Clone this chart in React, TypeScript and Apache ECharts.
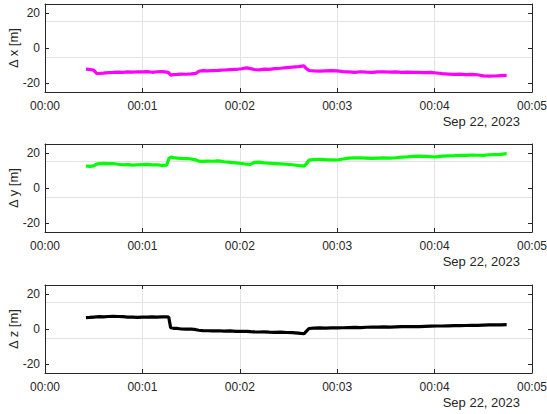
import React, { useEffect, useRef } from "react";
import * as echarts from "echarts";

const t = [
  0.42, 0.46, 0.50, 0.53, 0.56, 0.60, 0.65, 0.70, 0.75, 0.80, 0.85, 0.90, 0.95, 1.00, 1.05, 1.10, 1.15, 1.20, 1.25,
  1.27, 1.29, 1.32, 1.36, 1.40, 1.45, 1.50, 1.55,
  1.58, 1.62, 1.67, 1.72, 1.78, 1.84, 1.90, 1.96, 2.02, 2.07, 2.11, 2.15, 2.20, 2.25, 2.30, 2.36, 2.42, 2.48, 2.54, 2.60, 2.66,
  2.68, 2.71, 2.76, 2.82, 2.88, 2.94, 3.00, 3.06, 3.12, 3.18, 3.24, 3.30, 3.36, 3.42, 3.48, 3.54, 3.60, 3.66, 3.72, 3.78,
  3.84, 3.90, 3.96, 4.02, 4.08, 4.14, 4.20, 4.26, 4.32, 4.38, 4.44, 4.50, 4.56, 4.62, 4.68, 4.74,
];

const dx = [
  -12.0, -12.2, -12.6, -14.4, -14.5, -14.3, -14.0, -13.9, -13.7, -13.8, -13.6, -13.7, -13.5, -13.6, -13.4, -13.8, -13.5, -13.4, -13.7,
  -14.0, -15.4, -15.1, -15.0, -14.8, -14.9, -14.7, -14.4,
  -13.2, -12.9, -13.0, -12.8, -12.7, -12.5, -12.3, -12.2, -11.8, -11.3, -11.7, -12.2, -12.4, -12.0, -12.1, -11.7, -11.5, -11.2, -10.9, -10.6, -10.2,
  -11.5, -12.8, -13.0, -13.1, -13.0, -12.9, -13.0, -13.4, -13.6, -13.8, -13.5, -13.7, -13.8, -13.6, -13.5, -13.7, -13.6, -13.8, -13.7, -13.9,
  -13.8, -14.0, -13.9, -14.2, -14.6, -14.8, -15.0, -14.8, -15.1, -15.0, -15.2, -15.8, -16.0, -15.9, -15.7, -15.6,
];

const dy = [
  12.5, 12.3, 12.6, 13.6, 13.9, 14.0, 13.8, 13.9, 13.5, 13.2, 13.3, 13.0, 13.2, 13.3, 13.4, 13.1, 13.2, 12.9, 13.0,
  16.5, 17.6, 17.3, 17.0, 16.8, 16.7, 16.5, 16.0,
  15.2, 15.1, 15.3, 15.2, 15.4, 14.9, 14.6, 14.3, 13.9, 13.5, 13.4, 14.6, 14.7, 14.3, 14.1, 13.9, 13.7, 13.5, 13.2, 12.8, 12.4,
  13.5, 15.8, 16.2, 16.3, 16.1, 16.0, 15.9, 16.5, 17.0, 17.2, 17.1, 17.0, 16.8, 17.0, 17.1, 17.0, 17.2, 17.5, 17.7, 18.0,
  18.1, 18.0, 17.8, 17.7, 18.1, 18.3, 18.4, 18.6, 18.5, 18.7, 18.6, 18.5, 18.9, 19.0, 19.1, 19.5,
];

const dz = [
  6.5, 6.6, 6.8, 6.9, 7.0, 6.9, 7.1, 7.2, 7.1, 7.0, 6.8, 6.7, 6.6, 6.8, 6.7, 6.9, 6.8, 6.9, 6.9,
  6.8, 0.8, 0.4, 0.3, 0.0, -0.1, 0.0, -0.4,
  -0.7, -0.9, -1.0, -1.1, -1.0, -1.2, -1.1, -1.3, -1.4, -1.3, -1.5, -1.6, -1.7, -1.6, -1.8, -1.9, -1.8, -2.0, -2.1, -2.3, -2.7,
  -1.5, 0.3, 0.5, 0.6, 0.5, 0.6, 0.6, 0.7, 0.8, 0.9, 0.8, 1.0, 1.1, 1.1, 1.2, 1.1, 1.2, 1.3, 1.3, 1.4,
  1.3, 1.5, 1.6, 1.7, 1.7, 1.8, 1.9, 1.9, 2.0, 2.1, 2.1, 2.2, 2.3, 2.3, 2.4, 2.5,
];

const yLabels = ["Δ x [m]", "Δ y [m]", "Δ z [m]"];
const seriesData = [dx, dy, dz];
const colors = ["#ff00ff", "#00ff00", "#000000"];
const dateLabel = "Sep 22, 2023";
const xTickLabels = ["00:00", "00:01", "00:02", "00:03", "00:04", "00:05"];

const FONT = "Liberation Sans, Arial, Helvetica, sans-serif";
const TEXT = "#262626";
const GRID = "#e3e3e3";

export default function App() {
  const ref = useRef<HTMLDivElement>(null);
  useEffect(() => {
    document.body.style.margin = "0";
    if (!ref.current) return;
    const chart = echarts.init(ref.current, undefined, { renderer: "svg" });
    const tops = [4, 144, 285];
    const h = 88;
    const grids = tops.map((top) => ({ left: 45, right: 15, top, height: h, outerBoundsMode: "none", containLabel: false }));
    const xAxes: any[] = [];
    const yAxes: any[] = [];
    const series: any[] = [];
    const graphics: any[] = [];
    tops.forEach((top, i) => {
      xAxes.push({
        type: "value",
        gridIndex: i,
        min: 0,
        max: 5,
        interval: 1,
        position: "bottom",
        axisLine: { show: true, onZero: false, lineStyle: { color: TEXT, width: 1 } },
        axisTick: { show: true, inside: true, length: 4, lineStyle: { color: TEXT } },
        axisLabel: {
          color: TEXT,
          fontSize: 12,
          fontFamily: FONT,
          margin: 8,
          formatter: (v: number) => xTickLabels[Math.round(v)] ?? "",
        },
        splitLine: { show: true, lineStyle: { color: GRID, width: 1 } },
      });
      xAxes.push({
        type: "value",
        gridIndex: i,
        min: 0,
        max: 5,
        interval: 1,
        position: "top",
        axisLine: { show: true, onZero: false, lineStyle: { color: TEXT, width: 1 } },
        axisTick: { show: true, inside: true, length: 4, lineStyle: { color: TEXT } },
        axisLabel: { show: false },
        splitLine: { show: false },
      });
      yAxes.push({
        type: "value",
        gridIndex: i,
        min: -25,
        max: 25,
        position: "left",
        axisLine: { show: true, onZero: false, lineStyle: { color: TEXT, width: 1 } },
        axisTick: { show: true, inside: true, length: 4, lineStyle: { color: TEXT }, customValues: [-20, 0, 20] },
        axisLabel: { color: TEXT, fontSize: 12, fontFamily: FONT, margin: 5, customValues: [-20, 0, 20] },
        splitLine: { show: false },
        name: yLabels[i],
        nameLocation: "middle",
        nameGap: 25,
        nameRotate: 90,
        nameMoveOverlap: false,
        nameTextStyle: { color: TEXT, fontSize: 13, fontFamily: FONT },
      });
      yAxes.push({
        type: "value",
        gridIndex: i,
        min: -25,
        max: 25,
        position: "right",
        axisLine: { show: true, onZero: false, lineStyle: { color: TEXT, width: 1 } },
        axisTick: { show: true, inside: true, length: 4, lineStyle: { color: TEXT }, customValues: [-20, 0, 20] },
        axisLabel: { show: false },
        splitLine: { show: false },
      });
      series.push({
        type: "line",
        xAxisIndex: 2 * i,
        yAxisIndex: 2 * i,
        data: t.map((tv, k) => [tv, seriesData[i][k]]),
        showSymbol: false,
        lineStyle: { color: colors[i], width: 3.2 },
        itemStyle: { color: colors[i] },
        z: 3,
      });
      graphics.push({
        type: "text",
        right: 547 - 520,
        top: top + h + 23,
        style: { text: dateLabel, fill: TEXT, font: `13px ${FONT}` },
      });
    });

    tops.forEach((_, i) => {
      yAxes.push({
        type: "value",
        gridIndex: i,
        min: -25,
        max: 25,
        show: true,
        position: "left",
        axisLine: { show: false },
        axisTick: { show: false },
        axisLabel: { show: false },
        splitLine: { show: true, lineStyle: { color: GRID, width: 1 }, customValues: [-20, 0, 20] } as any,
        interval: 20,
      });
    });

    chart.setOption({
      animation: false,
      backgroundColor: "#ffffff",
      grid: grids,
      xAxis: xAxes,
      yAxis: yAxes,
      series,
      graphic: graphics,
    });
    return () => chart.dispose();
  }, []);
  return <div ref={ref} style={{ width: 547, height: 414 }} />;
}
